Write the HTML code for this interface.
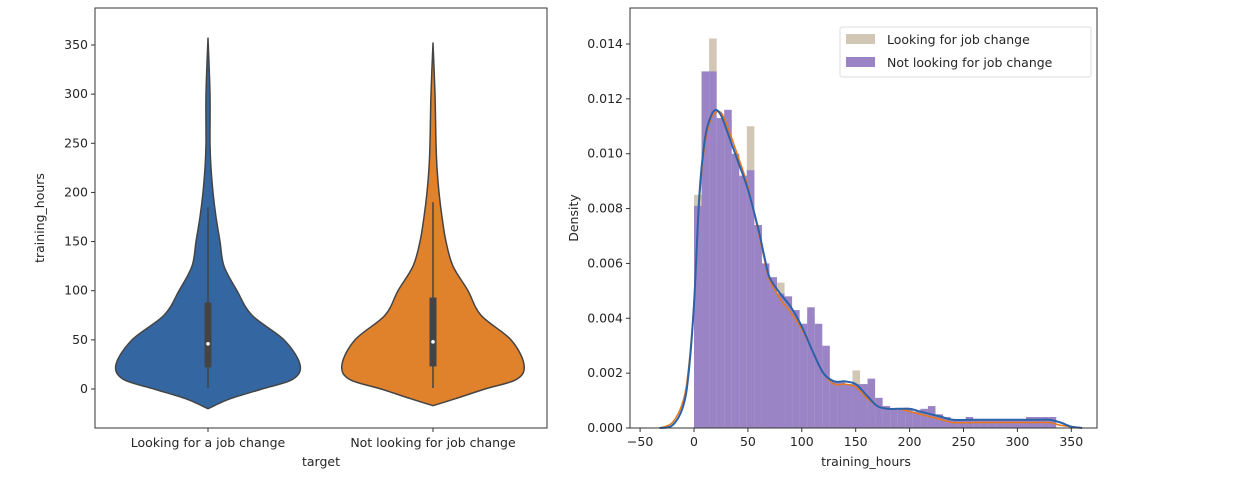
<!DOCTYPE html>
<html><head><meta charset="utf-8"><style>
body{margin:0;background:#fff;}
svg text{font-family:"DejaVu Sans","Liberation Sans",sans-serif;font-size:12.5px;fill:#262626;}
</style></head><body>
<svg id="s" width="1238" height="498" xmlns="http://www.w3.org/2000/svg"></svg>
<script>
// ---- violin data ----
const violinCats = ["Looking for a job change","Not looking for job change"];
const violinVals = [-20,-10,0,10,25,50,75,100,125,150,175,200,225,250,300,355];
const violinBlue = [0,22,54,85,92,76,44,29,16,12,8,5,3,2,2,0];
const violinOrange = [0,22,52,84,91,78,48,35,20,13,9,6,4,3,2,0];
const violinTopBlue = 357, violinTopOrange = 352, violinMinBlue=-20, violinMinOrange=-17;
const boxQ1 = [22,23], boxQ3 = [88,93], boxMed = [46,48], boxLo=[1,1], boxHi=[185,190];
const violinTicks = [0,50,100,150,200,250,300,350];
// ---- histogram data ----
const binWidth = 7;
const histNot = [0.0081,0.0130,0.0130,0.0113,0.0116,0.0100,0.0092,0.0094,0.0074,0.0060,0.0055,0.0049,0.0048,0.0043,0.0038,0.0044,0.0038,0.0030,0.0017,0.0017,0.0016,0.0016,0.0016,0.0018,0.0011,0.0008,0.0007,0.0007,0.0007,0.0006,0.0007,0.0008,0.0005,0.0004,0.0003,0.0003,0.0004,0.0003,0.0003,0.0003,0.0003,0.0003,0.0003,0.0003,0.0004,0.0004,0.0004,0.0004];
const histLook = [0.0085,0.0130,0.0142,0.0106,0.0112,0.0091,0.0091,0.0110,0.0074,0.0048,0.0048,0.0053,0.0045,0.0038,0.0038,0.0041,0.0030,0.0013,0.0017,0.0016,0.0016,0.0021,0.0016,0.0006,0.0007,0.0007,0.0007,0.0006,0.0006,0.0005,0.0005,0.0005,0.0003,0.0003,0.0003,0.0002,0.0002,0.0002,0.0003,0.0003,0.0002,0.0003,0.0003,0.0003,0.0003,0.0003,0.0003,0.0003];
const kdeX = [-32,-20,-10,-5,0,5,10,15,20,25,30,40,50,60,65,70,80,90,100,110,120,130,140,150,160,170,180,190,200,210,220,230,240,260,280,300,310,320,330,340,350,360];
const kdeBlue = [0,0.0001,0.0008,0.002,0.0045,0.0085,0.0105,0.0113,0.0116,0.0114,0.0109,0.0098,0.0087,0.0072,0.0063,0.0055,0.0049,0.0044,0.0037,0.0028,0.0020,0.0017,0.0017,0.0016,0.0012,0.0008,0.0007,0.0007,0.0007,0.0006,0.0005,0.0004,0.0003,0.0003,0.0003,0.0003,0.0003,0.0003,0.0003,0.0002,0.00005,0];
const kdeOrange = [0,0.0002,0.0010,0.0022,0.0046,0.0083,0.0103,0.0112,0.0115,0.0115,0.0111,0.0100,0.0088,0.0071,0.0062,0.0054,0.0047,0.0042,0.0036,0.0028,0.0020,0.0016,0.0016,0.0015,0.0011,0.0008,0.0007,0.0007,0.0006,0.0005,0.0004,0.0003,0.0002,0.0002,0.0002,0.0002,0.0002,0.0002,0.0002,0.0001,0.00005,0];
const densTicks = ["0.000","0.002","0.004","0.006","0.008","0.010","0.012","0.014"];
const hoursTicks = [-50,0,50,100,150,200,250,300,350];

const S=document.getElementById('s');const NS="http://www.w3.org/2000/svg";
function mk(t,a,p){const e=document.createElementNS(NS,t);for(const k in a)e.setAttribute(k,a[k]);(p||S).appendChild(e);return e;}
function smooth(pts){let d='M'+pts[0][0]+','+pts[0][1];
 for(let i=0;i<pts.length-1;i++){const p0=pts[Math.max(0,i-1)],p1=pts[i],p2=pts[i+1],p3=pts[Math.min(pts.length-1,i+2)];
  const c1=[p1[0]+(p2[0]-p0[0])/6,p1[1]+(p2[1]-p0[1])/6],c2=[p2[0]-(p3[0]-p1[0])/6,p2[1]-(p3[1]-p1[1])/6];
  d+=' C'+c1.join(',')+' '+c2.join(',')+' '+p2.join(',');}
 return d;}
// left axes
const L={x0:95,x1:547,y0:8,y1:428};
const vy=v=>389-(v)*(344/350);
const vcx=i=>208+i*225;
violinTicks.forEach(t=>{const y=vy(t);
 const l=mk('line',{x1:L.x0-4,x2:L.x0,y1:y,y2:y,stroke:'#333'});
 const tx=mk('text',{x:L.x0-7,y:y+4,'text-anchor':'end'});tx.textContent=t;});
function violin(i,prof,top,mn,fill){
 const cx=vcx(i);let r=[],l=[];
 for(let k=0;k<violinVals.length;k++){let v=violinVals[k];if(k==0)v=mn;if(k==violinVals.length-1)v=top;r.push([cx+prof[k],vy(v)]);l.push([cx-prof[k],vy(v)]);}
 const d=smooth(r)+' '+smooth(l.reverse()).replace('M','L')+'Z';
 const e=mk('path',{d:d,fill:fill,stroke:'#444','stroke-width':1.5,'stroke-linejoin':'round'});
 
 const w=mk('line',{x1:cx,x2:cx,y1:vy(boxLo[i]),y2:vy(boxHi[i]),stroke:'#444','stroke-width':1.5});
 const b=mk('rect',{x:cx-3.5,width:7,y:vy(boxQ3[i]),height:vy(boxQ1[i])-vy(boxQ3[i]),fill:'#444'});
 const m=mk('circle',{cx:cx,cy:vy(boxMed[i]),r:1.8,fill:'#fff'});
 const t=mk('line',{x1:cx,x2:cx,y1:L.y1,y2:L.y1+4,stroke:'#333'});
 const tx=mk('text',{x:cx,y:L.y1+19,'text-anchor':'middle'});tx.textContent=violinCats[i];
}
violin(0,violinBlue,violinTopBlue,violinMinBlue,'#3467a2');
violin(1,violinOrange,violinTopOrange,violinMinOrange,'#e0812c');
let f=mk('rect',{x:L.x0,y:L.y0,width:L.x1-L.x0,height:L.y1-L.y0,fill:'none',stroke:'#333'});
let t1=mk('text',{x:321,y:466,'text-anchor':'middle'});t1.textContent='target';
let t2=mk('text',{x:44,y:218,'text-anchor':'middle',transform:'rotate(-90 44 218)'});t2.textContent='training_hours';
// right axes
const R={x0:630,x1:1097,y0:8,y1:428};
const hx=v=>694+v*(53.9/50);
const hy=v=>428-v*(384/0.014);
histLook.forEach((h,i)=>{const e=mk('rect',{x:hx(i*binWidth),width:hx(binWidth)-hx(0),y:hy(h),height:428-hy(h),fill:'#d2c6b5'});});
histNot.forEach((h,i)=>{const e=mk('rect',{x:hx(i*binWidth),width:hx(binWidth)-hx(0),y:hy(h),height:428-hy(h),fill:'#9a84c5'});});
function line(ys,c,w,n){const e=mk('path',{d:smooth(kdeX.map((x,i)=>[hx(x),hy(ys[i])])),fill:'none',stroke:c,'stroke-width':w,'stroke-linejoin':'round'});}
line(kdeOrange,'#e8771a',1.5,'kde-orange');
line(kdeBlue,'#2c62a8',2,'kde-blue');
densTicks.forEach((t,i)=>{const y=hy(i*0.002);
 const l=mk('line',{x1:R.x0-4,x2:R.x0,y1:y,y2:y,stroke:'#333'});
 const tx=mk('text',{x:R.x0-7,y:y+4,'text-anchor':'end'});tx.textContent=t;});
hoursTicks.forEach(t=>{const x=hx(t);
 const l=mk('line',{x1:x,x2:x,y1:R.y1,y2:R.y1+4,stroke:'#333'});
 const tx=mk('text',{x:x,y:R.y1+18,'text-anchor':'middle'});tx.textContent=t<0?'\u2212'+(-t):t;});
f=mk('rect',{x:R.x0,y:R.y0,width:R.x1-R.x0,height:R.y1-R.y0,fill:'none',stroke:'#333'});
t1=mk('text',{x:866,y:466,'text-anchor':'middle'});t1.textContent='training_hours';
t2=mk('text',{x:578,y:218,'text-anchor':'middle',transform:'rotate(-90 578 218)'});t2.textContent='Density';
// legend
const lg=mk('g',{});
mk('rect',{x:840,y:27,width:251,height:50,fill:'#fff','fill-opacity':0.8,stroke:'#ddd',rx:2},lg);
mk('rect',{x:846,y:34,width:29,height:10,fill:'#d2c6b5'},lg);
mk('rect',{x:846,y:57,width:29,height:10,fill:'#9a84c5'},lg);
let a=mk('text',{x:887,y:44},lg);a.textContent='Looking for job change';
a=mk('text',{x:887,y:67},lg);a.textContent='Not looking for job change';
</script>
</body></html>
